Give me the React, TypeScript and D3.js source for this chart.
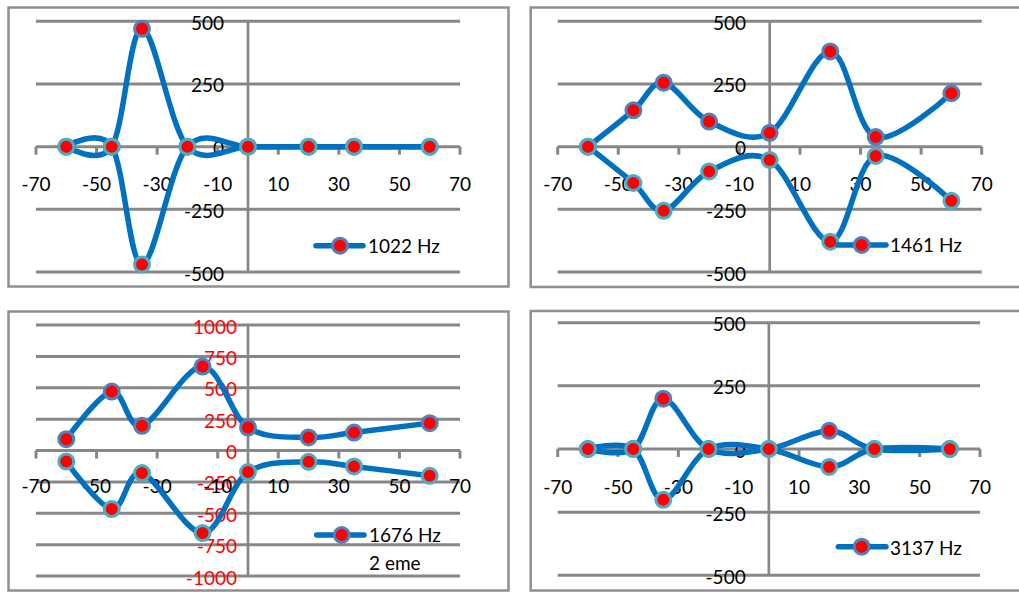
import React from "react";
import * as d3 from "d3";

const anglesA = [-60, -45, -35, -20, 0, 20, 35, 60];
const anglesB = [-60, -45, -35, -15, 0, 20, 35, 60];
const xTicks = [-70, -50, -30, -10, 10, 30, 50, 70];
const yTicks500 = [-500, -250, 0, 250, 500];
const yTicks1000 = [-1000, -750, -500, -250, 0, 250, 500, 750, 1000];

const upper1022 = [0, 0, 470, 0, 0, 0, 0, 0];
const lower1022 = [0, 0, -470, 0, 0, 0, 0, 0];
const upper1461 = [0, 145, 255, 100, 55, 380, 38, 213];
const lower1461 = [0, -145, -256, -99, -53, -379, -37, -216];
const upper1676 = [90, 470, 197, 669, 183, 104, 143, 218];
const lower1676 = [-88, -467, -180, -658, -172, -90, -127, -202];
const upper3137 = [0, 0, 199, 0, 0, 72, 0, 0];
const lower3137 = [0, 0, -201, 0, 0, -71, 0, 0];

const panels = [
  {
    label: "1022 Hz", extra: "", angles: anglesA, upper: upper1022, lower: lower1022,
    yTicks: yTicks500, yMax: 500, yColor: "#000",
    border: [8.5, 7.5, 508.5, 286.5], plot: [36, 21.3, 460, 272], yLabelX: 224, xLabelDy: 44.7,
    legend: { x0: 316, x1: 363, y: 245.7, mx: 340, tx: 368, ty: 252.7 },
  },
  {
    label: "1461 Hz", extra: "", angles: anglesA, upper: upper1461, lower: lower1461,
    yTicks: yTicks500, yMax: 500, yColor: "#000",
    border: [530.7, 7.5, 1030, 287], plot: [557.7, 21.3, 981.7, 272], yLabelX: 746, xLabelDy: 44.7,
    legend: { x0: 838, x1: 886, y: 245, mx: 861.7, tx: 890, ty: 252.3 },
  },
  {
    label: "1676 Hz", extra: "2 eme", angles: anglesB, upper: upper1676, lower: lower1676,
    yTicks: yTicks1000, yMax: 1000, yColor: "#FF0000",
    border: [8.5, 311.5, 508.5, 590.5], plot: [36, 325, 460, 576], yLabelX: 237, xLabelDy: 42.6,
    legend: { x0: 316.7, x1: 364, y: 535, mx: 341.7, tx: 369, ty: 541.7 },
  },
  {
    label: "3137 Hz", extra: "", angles: anglesA, upper: upper3137, lower: lower3137,
    yTicks: yTicks500, yMax: 500, yColor: "#000",
    border: [530.7, 311, 1030, 590.5], plot: [557.7, 322.7, 980, 575.3], yLabelX: 745.7, xLabelDy: 44.7,
    legend: { x0: 838.3, x1: 886, y: 546.7, mx: 861.7, tx: 890, ty: 555 },
  },
];

const GRID = "#878787";
const LINE = "#0070C0";
const UPPER_EDGE = "#4F81BD";
const LOWER_EDGE = "#4BACC6";
const FONT = "Lato, 'Open Sans', sans-serif";

function Panel({ p }: { p: any }) {
  const [l, t, r, b] = p.plot;
  const x = d3.scaleLinear().domain([-70, 70]).range([l, r]);
  const y = d3.scaleLinear().domain([-p.yMax, p.yMax]).range([b, t]);
  const line = d3
    .line<[number, number]>()
    .x((d) => x(d[0]))
    .y((d) => y(d[1]))
    .curve(d3.curveCardinal.tension(0));
  const up: [number, number][] = p.angles.map((a: number, i: number) => [a, p.upper[i]]);
  const lo: [number, number][] = p.angles.map((a: number, i: number) => [a, p.lower[i]]);
  const [bx0, by0, bx1, by1] = p.border;
  const x0 = x(0);
  const y0 = y(0);
  const lg = p.legend;
  return (
    <g>
      <rect x={bx0} y={by0} width={bx1 - bx0} height={by1 - by0} fill="#fff" stroke="#8f8f8f" strokeWidth={2.5} />
      {p.yTicks.map((v: number) => (
        <line key={"g" + v} x1={l} x2={r} y1={y(v)} y2={y(v)} stroke={GRID} strokeWidth={3} />
      ))}
      <line x1={x0} x2={x0} y1={t} y2={b} stroke={GRID} strokeWidth={2.7} />
      {xTicks.map((v) => (
        <line key={"t" + v} x1={x(v)} x2={x(v)} y1={y0} y2={y0 + 8} stroke={GRID} strokeWidth={3} />
      ))}
      {p.yTicks.map((v: number) => (
        <text key={"yl" + v} x={p.yLabelX} y={y(v) + 8.5} textAnchor="end" fontFamily={FONT} fontSize={19} fill={p.yColor}>
          {v}
        </text>
      ))}
      {xTicks.map((v) => (
        <text key={"xl" + v} x={x(v)} y={y0 + p.xLabelDy} textAnchor="middle" fontFamily={FONT} fontSize={19} fill="#000">
          {v}
        </text>
      ))}
      <path d={line(up) || ""} fill="none" stroke={LINE} strokeWidth={5.5} strokeLinejoin="round" strokeLinecap="round" />
      {up.map((d, i) => (
        <circle key={"u" + i} cx={x(d[0])} cy={y(d[1])} r={7.5} fill="#FF0000" stroke={UPPER_EDGE} strokeWidth={3} />
      ))}
      <path d={line(lo) || ""} fill="none" stroke={LINE} strokeWidth={5.5} strokeLinejoin="round" strokeLinecap="round" />
      {lo.map((d, i) => (
        <circle key={"l" + i} cx={x(d[0])} cy={y(d[1])} r={7.5} fill="#FF0000" stroke={LOWER_EDGE} strokeWidth={3} />
      ))}
      <line x1={lg.x0} x2={lg.x1} y1={lg.y} y2={lg.y} stroke={LINE} strokeWidth={5.5} strokeLinecap="round" />
      <circle cx={lg.mx} cy={lg.y} r={7.5} fill="#FF0000" stroke={UPPER_EDGE} strokeWidth={3} />
      <text x={lg.tx} y={lg.ty} fontFamily={FONT} fontSize={19} fill="#000">
        {p.label}
      </text>
      {p.extra ? (
        <text x={lg.tx} y={570} fontFamily={FONT} fontSize={19} fill="#000">
          {p.extra}
        </text>
      ) : null}
    </g>
  );
}

export default function App() {
  return (
    <svg
      width={1019}
      height={592}
      style={{ position: "absolute", left: 0, top: 0, background: "#fff" }}
    >
      <rect x={0} y={0} width={1019} height={592} fill="#fff" />
      {panels.map((p, i) => (
        <Panel key={i} p={p} />
      ))}
    </svg>
  );
}
